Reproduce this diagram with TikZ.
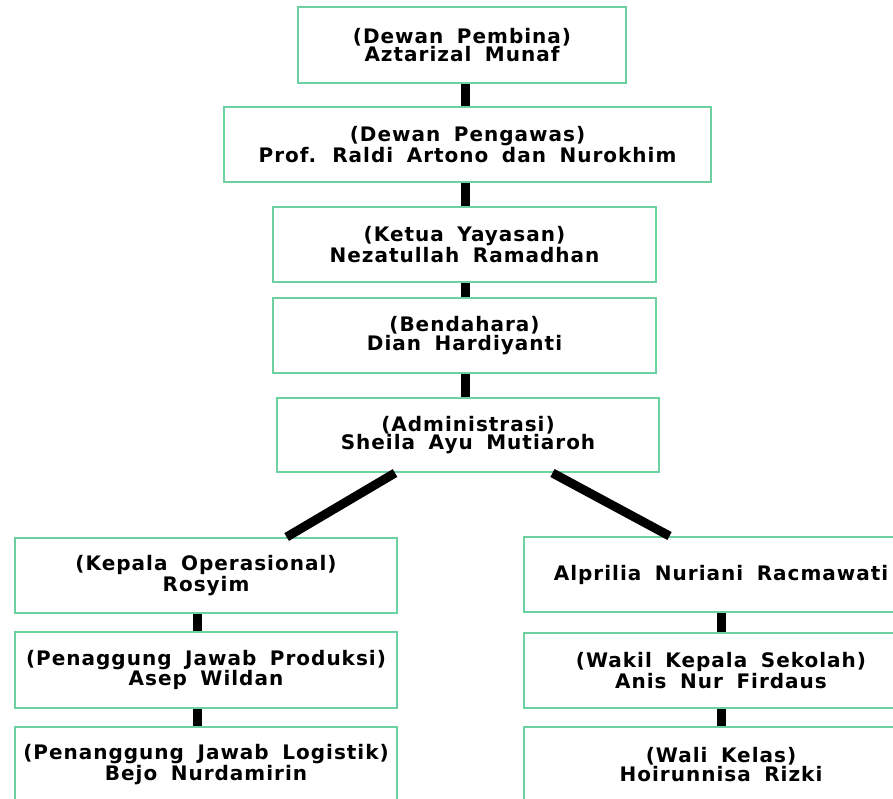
\documentclass[tikz,border=0pt]{standalone}
\usepackage{fontspec}
\setmainfont{DejaVu Sans}[UprightFont=* Bold,LetterSpace=5,WordSpace=1.7]
\usetikzlibrary{calc}
\definecolor{boxgreen}{RGB}{108,208,160}
\tikzset{
  jabatan/.style={draw=boxgreen,line width=2pt,fill=white,align=center,
    font=\fontsize{20}{17.5}\selectfont,inner sep=0pt},
  garis/.style={line width=9pt,black}
}
\begin{document}
\begin{tikzpicture}[x=1pt,y=-1pt]
    \useasboundingbox (0,0) rectangle (893,798);
    \clip (0,0) rectangle (893,798);
    % pimpinan
    \node[jabatan,minimum width=328pt,minimum height=76pt] (pembina) at (462,45) {(Dewan Pembina)\\Aztarizal Munaf};
    \node[jabatan,minimum width=487pt,minimum height=75pt] (pengawas) at (467.5,144.5) {(Dewan Pengawas)\\Prof. Raldi Artono dan Nurokhim};
    \node[jabatan,minimum width=383pt,minimum height=75pt] (ketua) at (464.5,244.5) {(Ketua Yayasan)\\Nezatullah Ramadhan};
    \node[jabatan,minimum width=383pt,minimum height=75pt] (bendahara) at (464.5,335.5) {(Bendahara)\\Dian Hardiyanti};
    \node[jabatan,minimum width=382pt,minimum height=74pt] (admin) at (468,435) {(Administrasi)\\Sheila Ayu Mutiaroh};
    % cabang kiri
    \node[jabatan,minimum width=382pt,minimum height=75pt] (operasional) at (206,575.5) {(Kepala Operasional)\\Rosyim};
    \node[jabatan,minimum width=382pt,minimum height=76pt] (produksi) at (206,670) {(Penaggung Jawab Produksi)\\Asep Wildan};
    \node[jabatan,minimum width=382pt,minimum height=75pt] (logistik) at (206,764.5) {(Penanggung Jawab Logistik)\\Bejo Nurdamirin};
    % cabang kanan
    \node[jabatan,minimum width=394pt,minimum height=75pt] (kepsek) at (721,574.5) {Alprilia Nuriani Racmawati};
    \node[jabatan,minimum width=394pt,minimum height=75pt] (wakil) at (721,670.5) {(Wakil Kepala Sekolah)\\Anis Nur Firdaus};
    \node[jabatan,minimum width=394pt,minimum height=75pt] (walikelas) at (721,764.5) {(Wali Kelas)\\Hoirunnisa Rizki};
    % garis
    \coordinate (tengah) at (465,0);
    \coordinate (kiri) at (197,0);
    \coordinate (kanan) at (721,0);
    \foreach \a/\b/\x in {pembina/pengawas/tengah,pengawas/ketua/tengah,ketua/bendahara/tengah,
        bendahara/admin/tengah,operasional/produksi/kiri,produksi/logistik/kiri,
        kepsek/wakil/kanan,wakil/walikelas/kanan}
      \draw[garis] (\a.south -| \x) -- (\b.north -| \x);
    \draw[garis] ($(admin.south west)!0.31!(admin.south east)$) -- ($(operasional.north west)!0.71!(operasional.north east)$);
    \draw[garis] ($(admin.south west)!0.72!(admin.south east)$) -- ($(kepsek.north west)!0.37!(kepsek.north east)$);
\end{tikzpicture}
\end{document}
